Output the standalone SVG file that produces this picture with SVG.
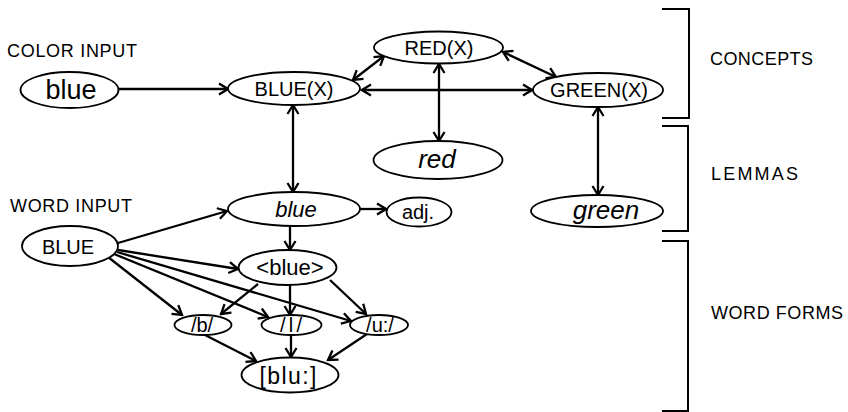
<svg xmlns="http://www.w3.org/2000/svg" width="848" height="412" viewBox="0 0 848 412">
<style>
  .n ellipse { fill: #fff; stroke: #000; stroke-width: 1.8; }
  .t { font-family: "Liberation Sans", Arial, sans-serif; fill: #000; text-anchor: middle; }
  .it { font-style: italic; }
  .lbl { font-family: "Liberation Sans", Arial, sans-serif; font-size: 18px; fill: #000; }
  .e path { fill: none; stroke: #000; stroke-width: 2.3; }
  .br { fill: none; stroke: #000; stroke-width: 2; }
</style>
<defs>
  <marker id="ah" markerUnits="userSpaceOnUse" viewBox="-11 -7 13 14" refX="0" refY="0" markerWidth="13" markerHeight="14" orient="auto-start-reverse">
    <path d="M-9,-5.5 L0,0 L-9,5.5" fill="none" stroke="#000" stroke-width="2.3"/>
  </marker>
</defs>

<g id="labels">
  <text class="lbl" x="7" y="57" textLength="130" lengthAdjust="spacing">COLOR INPUT</text>
  <text class="lbl" x="10" y="212" textLength="122" lengthAdjust="spacing">WORD INPUT</text>
  <text class="lbl" x="710" y="65" textLength="103" lengthAdjust="spacing">CONCEPTS</text>
  <text class="lbl" x="711" y="180" textLength="87" lengthAdjust="spacing">LEMMAS</text>
  <text class="lbl" x="711" y="319" textLength="132" lengthAdjust="spacing">WORD FORMS</text>
</g>

<g id="brackets">
  <path class="br" d="M662,9 H689 V118 H662"/>
  <path class="br" d="M662,126 H688 V231 H662"/>
  <path class="br" d="M662,241 H688 V411 H662"/>
</g>

<g id="connectors" class="e">
  <path d="M118.5,89 L228,89" marker-end="url(#ah)"/>
  <path d="M353,80 L384,56" marker-start="url(#ah)" marker-end="url(#ah)"/>
  <path d="M362,90 L532,90" marker-start="url(#ah)" marker-end="url(#ah)"/>
  <path d="M503,52 L556,77" marker-start="url(#ah)" marker-end="url(#ah)"/>
  <path d="M439,64 L439,141" marker-start="url(#ah)" marker-end="url(#ah)"/>
  <path d="M598,107 L598,195" marker-start="url(#ah)" marker-end="url(#ah)"/>
  <path d="M293,105 L293,192" marker-start="url(#ah)" marker-end="url(#ah)"/>
  <path d="M118,243 L227,211" marker-end="url(#ah)"/>
  <path d="M360,209 L386,209" marker-end="url(#ah)"/>
  <path d="M290,226.5 L290,250" marker-end="url(#ah)"/>
  <path d="M118,250 L238,269" marker-end="url(#ah)"/>
  <path d="M108,257 L182,315" marker-end="url(#ah)"/>
  <path d="M114,254 L268,317" marker-end="url(#ah)"/>
  <path d="M117,252 L351,321" marker-end="url(#ah)"/>
  <path d="M258,284 L221,314" marker-end="url(#ah)"/>
  <path d="M290,285 L290,315" marker-end="url(#ah)"/>
  <path d="M330,280 L366,314" marker-end="url(#ah)"/>
  <path d="M205,335 L256,361" marker-end="url(#ah)"/>
  <path d="M291,335 L291,357" marker-end="url(#ah)"/>
  <path d="M367,334 L328,360" marker-end="url(#ah)"/>
</g>

<g id="color-blue" class="n">
  <ellipse cx="69.5" cy="90" rx="49" ry="18"/>
  <text class="t" x="71" y="99" font-size="27">blue</text>
</g>
<g id="BLUE-X" class="n">
  <ellipse cx="294" cy="88.5" rx="66" ry="16.5"/>
  <text class="t" x="294" y="96" font-size="20">BLUE(X)</text>
</g>
<g id="RED-X" class="n">
  <ellipse cx="438.5" cy="47.5" rx="64.5" ry="16"/>
  <text class="t" x="439" y="55" font-size="20">RED(X)</text>
</g>
<g id="GREEN-X" class="n">
  <ellipse cx="598" cy="90" rx="65" ry="17"/>
  <text class="t" x="599" y="97" font-size="20">GREEN(X)</text>
</g>
<g id="red" class="n">
  <ellipse cx="438" cy="160" rx="64.5" ry="19"/>
  <text class="t it" x="437" y="168" font-size="26">red</text>
</g>
<g id="green" class="n">
  <ellipse cx="597" cy="211" rx="66" ry="16"/>
  <text class="t it" x="606" y="219" font-size="26">green</text>
</g>
<g id="blue-lemma" class="n">
  <ellipse cx="294" cy="209" rx="66" ry="17"/>
  <text class="t it" x="296" y="217" font-size="22">blue</text>
</g>
<g id="adj" class="n">
  <ellipse cx="419" cy="212" rx="32.5" ry="14.5"/>
  <text class="t" x="418" y="219" font-size="20">adj.</text>
</g>
<g id="BLUE-word" class="n">
  <ellipse cx="70" cy="246" rx="48" ry="20"/>
  <text class="t" x="68" y="253.5" font-size="20">BLUE</text>
</g>
<g id="blue-form" class="n">
  <ellipse cx="287.5" cy="267.5" rx="49" ry="17.5"/>
  <text class="t" x="290" y="275" font-size="22">&lt;blue&gt;</text>
</g>
<g id="b" class="n">
  <ellipse cx="203" cy="325" rx="28.5" ry="10"/>
  <text class="t" x="202" y="332" font-size="20">/b/</text>
</g>
<g id="l" class="n">
  <ellipse cx="291.5" cy="325" rx="30" ry="10"/>
  <text class="t" x="291" y="332" font-size="20" textLength="22" lengthAdjust="spacing">/l/</text>
</g>
<g id="u" class="n">
  <ellipse cx="379" cy="325" rx="29" ry="10"/>
  <text class="t" x="380" y="332" font-size="20">/u:/</text>
</g>
<g id="blu" class="n">
  <ellipse cx="290" cy="375" rx="48.5" ry="17.5"/>
  <text class="t" x="288" y="384" font-size="23" textLength="57" lengthAdjust="spacing">[blu:]</text>
</g>
</svg>
